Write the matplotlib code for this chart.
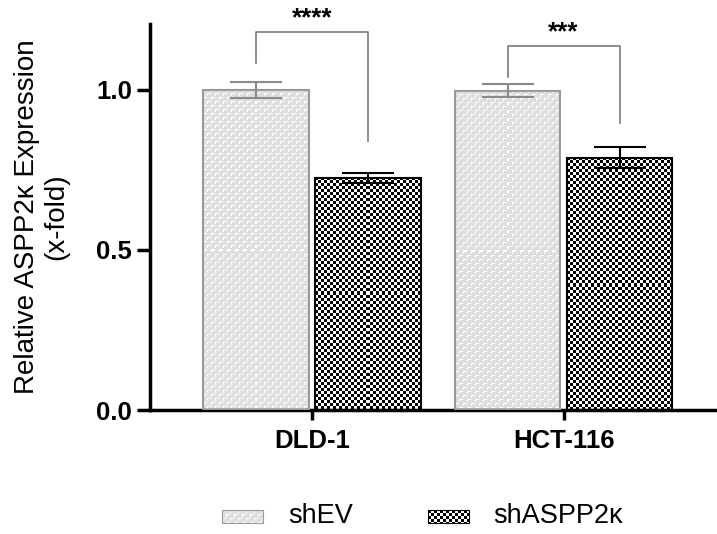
import numpy as np
import matplotlib.pyplot as plt
from matplotlib.patches import Rectangle

plt.rcParams['font.family'] = ['Liberation Sans', 'DejaVu Sans']

# datos
cell_lines = ['DLD-1', 'HCT-116']
groups = ['shEV', 'shASPP2κ']
mean_shev = [1.0, 0.998]
mean_shaspp = [0.725, 0.788]
err_shev = [0.024, 0.020]
err_shaspp = [0.016, 0.033]
stars = ['****', '***']
bracket_top = [1.181, 1.1375]
bracket_left_end = [1.084, 1.041]
bracket_right_end = [0.841, 0.897]


def ev_tile():
    t = np.full((8, 8), 0.87)
    t[0, 0:4] = 1.0
    t[0:3, 0] = 1.0
    t[4, 4:8] = 1.0
    t[4:7, 4] = 1.0
    return t


def check_tile():
    t = np.ones((6, 6))
    t[0:3, 0:3] = 0.0
    t[3:6, 3:6] = 0.0
    return t


fig = plt.figure(figsize=(7.17, 5.34), dpi=100)
W, H = 717, 534
ax = fig.add_axes([150 / W, 124 / H, (716 - 150) / W, (410 - 24) / H])

x = np.arange(len(cell_lines))
offset = 0.2225
width = 0.418
ax.set_xlim(-0.644, 1.606)
ax.set_ylim(0, 1.206)

bars_ev = ax.bar(x - offset, mean_shev, width, facecolor='none',
                 edgecolor='#9a9a9a', linewidth=1.5, zorder=3)
bars_sh = ax.bar(x + offset, mean_shaspp, width, facecolor='none',
                 edgecolor='black', linewidth=1.5, zorder=3)


def fill_texture(bars, tile):
    for b in bars:
        x0, y0 = b.get_x(), b.get_y()
        x1, y1 = x0 + b.get_width(), y0 + b.get_height()
        p0 = ax.transData.transform((x0, y0))
        p1 = ax.transData.transform((x1, y1))
        nw = int(round(abs(p1[0] - p0[0])))
        nh = int(round(abs(p1[1] - p0[1])))
        reps = (nh // tile.shape[0] + 1, nw // tile.shape[1] + 1)
        tex = np.tile(tile, reps)[:nh, :nw]
        ax.imshow(tex, cmap='gray', vmin=0, vmax=1, extent=(x0, x1, y0, y1),
                  interpolation='nearest', aspect='auto', zorder=2)


fill_texture(bars_ev, ev_tile())
fill_texture(bars_sh, check_tile())
ax.set_xlim(-0.644, 1.606)
ax.set_ylim(0, 1.206)

ax.errorbar(x - offset, mean_shev, yerr=err_shev, fmt='none', ecolor='#8a8a8a',
            elinewidth=1.5, capsize=19, capthick=1.5, zorder=4)
ax.errorbar(x + offset, mean_shaspp, yerr=err_shaspp, fmt='none', ecolor='black',
            elinewidth=1.5, capsize=19, capthick=1.5, zorder=4)

# corchetes de significancia
for i in range(len(cell_lines)):
    xl, xr = x[i] - offset, x[i] + offset
    ax.plot([xl, xl, xr, xr],
            [bracket_left_end[i], bracket_top[i], bracket_top[i], bracket_right_end[i]],
            color='#7a7a7a', lw=1.2, clip_on=False, zorder=4)
    ax.text(x[i], bracket_top[i] + 0.022, stars[i], ha='center', va='baseline',
            fontsize=18.5, fontweight='bold', clip_on=False)

for s in ['top', 'right']:
    ax.spines[s].set_visible(False)
for s in ['left', 'bottom']:
    ax.spines[s].set_linewidth(2.5)

ax.set_yticks([0, 0.5, 1.0])
ax.set_yticklabels(['0.0', '0.5', '1.0'])
ax.set_xticks(x)
ax.set_xticklabels(cell_lines)
ax.tick_params(axis='y', length=9.5, width=2.5, pad=3.5, labelsize=18.5)
ax.tick_params(axis='x', length=7, width=2.5, pad=7, labelsize=18.5)
for lab in ax.get_xticklabels() + ax.get_yticklabels():
    lab.set_fontweight('bold')

ax.set_ylabel('Relative ASPP2κ Expression\n(x-fold)', fontsize=20, labelpad=19)

# leyenda manual
legend_items = [(groups[0], ev_tile(), '#9a9a9a', 222, 288),
                (groups[1], check_tile(), 'black', 428, 493)]
for label, tile, ec, sx, tx in legend_items:
    sw, sh = 41, 13
    tex = np.tile(tile, (sh // tile.shape[0] + 1, sw // tile.shape[1] + 1))[:sh, :sw]
    fig.figimage(tex, xo=sx, yo=H - 523, cmap='gray', vmin=0, vmax=1, origin='upper')
    fig.add_artist(Rectangle((sx / W, (H - 523) / H), sw / W, sh / H,
                             transform=fig.transFigure, facecolor='none',
                             edgecolor=ec, linewidth=0.8))
    fig.text(tx / W, (H - 516) / H, label, fontsize=19.5, va='center', ha='left')

fig.savefig('out.png', dpi=100)
